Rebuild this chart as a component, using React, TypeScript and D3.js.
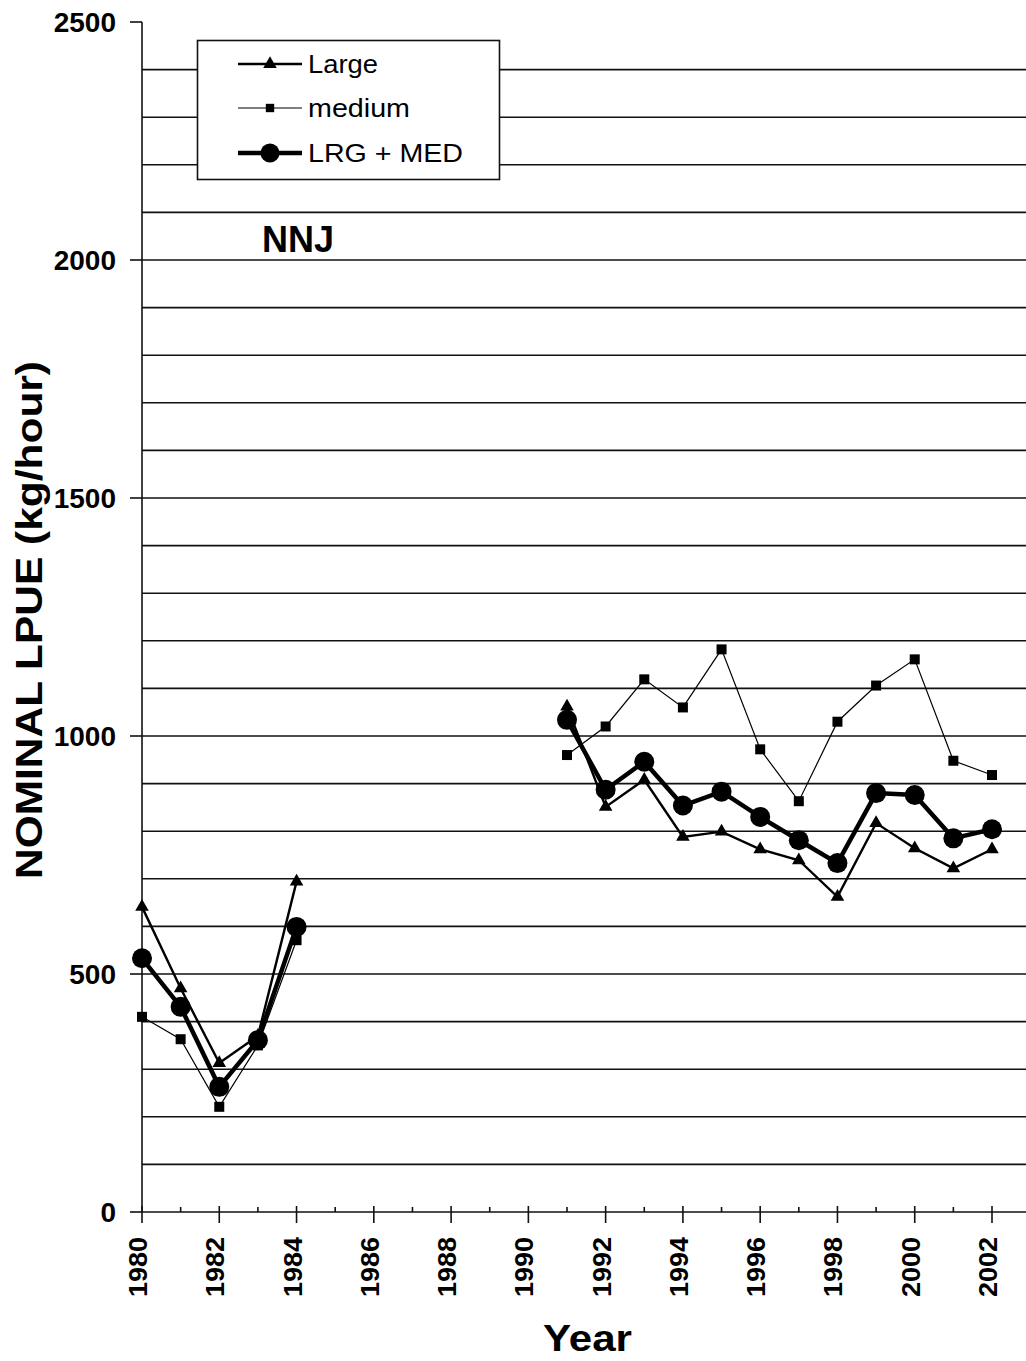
import { useRef, useEffect } from 'react';
import * as d3 from 'd3';

const years = [1980, 1981, 1982, 1983, 1984, 1991, 1992, 1993, 1994, 1995, 1996, 1997, 1998, 1999, 2000, 2001, 2002];
const large = [641, 470, 313, 370, 694, 1062, 851, 908, 788, 799, 762, 739, 662, 817, 764, 722, 762];
const medium = [410, 363, 221, 350, 571, 960, 1020, 1119, 1060, 1182, 972, 863, 1030, 1106, 1161, 948, 918];
const combined = [533, 431, 263, 361, 599, 1034, 887, 946, 854, 883, 830, 781, 733, 880, 876, 785, 804];
const yTicks = [0, 500, 1000, 1500, 2000, 2500];
const xTicks = [1980, 1982, 1984, 1986, 1988, 1990, 1992, 1994, 1996, 1998, 2000, 2002];
const legendLabels = ['Large', 'medium', 'LRG + MED'];

const W = 1026;
const H = 1361;
const FONT = '"Liberation Sans", Arial, sans-serif';

export default function App() {
  const svgRef = useRef(null);

  useEffect(() => {
    const svg = d3.select(svgRef.current);
    svg.selectAll('*').remove();

    const left = 142, top = 22, bottom = 1212, right = 1026;
    const x = d3.scaleLinear().domain([1980, 2002]).range([left, 992]);
    const y = d3.scaleLinear().domain([0, 2500]).range([bottom, top]);

    // gridlines every 100
    svg.append('g')
      .selectAll('line')
      .data(d3.range(100, 2500, 100))
      .join('line')
      .attr('x1', left).attr('x2', right)
      .attr('y1', d => y(d)).attr('y2', d => y(d))
      .attr('stroke', '#111').attr('stroke-width', 1.6);

    // axes
    svg.append('line').attr('x1', left).attr('x2', left).attr('y1', top).attr('y2', bottom)
      .attr('stroke', '#111').attr('stroke-width', 1.6);
    svg.append('line').attr('x1', left).attr('x2', right).attr('y1', bottom).attr('y2', bottom)
      .attr('stroke', '#111').attr('stroke-width', 1.6);

    const yAx = svg.append('g');
    yAx.selectAll('line')
      .data(yTicks)
      .join('line')
      .attr('x1', left - 12).attr('x2', left)
      .attr('y1', d => y(d)).attr('y2', d => y(d))
      .attr('stroke', '#111').attr('stroke-width', 1.6);
    yAx.selectAll('text')
      .data(yTicks)
      .join('text')
      .attr('x', 116).attr('y', d => y(d) + 10)
      .attr('text-anchor', 'end')
      .attr('font-family', FONT).attr('font-weight', 'bold').attr('font-size', 28)
      .text(d => d);

    // x ticks: minor every year (inside), major every 2 years (crossing)
    svg.append('g').selectAll('line')
      .data(d3.range(1980, 2003))
      .join('line')
      .attr('x1', d => x(d)).attr('x2', d => x(d))
      .attr('y1', d => (d % 2 === 0 ? bottom - 6 : bottom - 5))
      .attr('y2', d => (d % 2 === 0 ? bottom + 11 : bottom))
      .attr('stroke', '#111').attr('stroke-width', 1.6);
    svg.append('g').selectAll('text')
      .data(xTicks)
      .join('text')
      .attr('transform', d => `translate(${x(d) + 5},1237) rotate(-90)`)
      .attr('text-anchor', 'end')
      .attr('font-family', FONT).attr('font-weight', 'bold').attr('font-size', 26)
      .attr('textLength', 60).attr('lengthAdjust', 'spacingAndGlyphs')
      .text(d => d);

    // axis titles
    svg.append('text')
      .attr('transform', `translate(42,620) rotate(-90)`)
      .attr('text-anchor', 'middle')
      .attr('font-family', FONT).attr('font-weight', 'bold').attr('font-size', 36)
      .attr('textLength', 518).attr('lengthAdjust', 'spacingAndGlyphs')
      .text('NOMINAL LPUE (kg/hour)');
    svg.append('text')
      .attr('x', 543).attr('y', 1351)
      .attr('font-family', FONT).attr('font-weight', 'bold').attr('font-size', 36)
      .attr('textLength', 89).attr('lengthAdjust', 'spacingAndGlyphs')
      .text('Year');

    svg.append('text')
      .attr('x', 262).attr('y', 252)
      .attr('font-family', FONT).attr('font-weight', 'bold').attr('font-size', 36)
      .text('NNJ');

    // split each series into segments around the data gap
    const segs = (vals) => {
      const out = [];
      let cur = [];
      vals.forEach((v, i) => {
        if (i > 0 && years[i] - years[i - 1] > 1) { out.push(cur); cur = []; }
        cur.push([years[i], v]);
      });
      out.push(cur);
      return out;
    };
    const pl = d3.line().x(d => x(d[0])).y(d => y(d[1]));

    const tri = d3.symbol().type(d3.symbolTriangle).size(80);
    const sq = d3.symbol().type(d3.symbolSquare).size(100);

    // medium
    svg.append('g').selectAll('path')
      .data(segs(medium)).join('path')
      .attr('d', pl).attr('fill', 'none').attr('stroke', '#000').attr('stroke-width', 1.2);
    svg.append('g').selectAll('path')
      .data(medium).join('path')
      .attr('d', sq())
      .attr('transform', (d, i) => `translate(${x(years[i])},${y(d)})`)
      .attr('fill', '#000');

    // large
    svg.append('g').selectAll('path')
      .data(segs(large)).join('path')
      .attr('d', pl).attr('fill', 'none').attr('stroke', '#000').attr('stroke-width', 2.4);
    svg.append('g').selectAll('path')
      .data(large).join('path')
      .attr('d', tri())
      .attr('transform', (d, i) => `translate(${x(years[i])},${y(d)})`)
      .attr('fill', '#000');

    // combined
    svg.append('g').selectAll('path')
      .data(segs(combined)).join('path')
      .attr('d', pl).attr('fill', 'none').attr('stroke', '#000').attr('stroke-width', 4.5);
    svg.append('g').selectAll('circle')
      .data(combined).join('circle')
      .attr('cx', (d, i) => x(years[i])).attr('cy', d => y(d))
      .attr('r', 10).attr('fill', '#000');

    // legend
    const lg = svg.append('g');
    lg.append('rect')
      .attr('x', 197.5).attr('y', 40.5).attr('width', 302).attr('height', 139)
      .attr('fill', '#fff').attr('stroke', '#111').attr('stroke-width', 1.6);
    const ly = [64, 108, 153];
    const lw = [70, 102, 155];
    const widths = [2.4, 1.2, 4.5];
    legendLabels.forEach((lab, i) => {
      lg.append('line').attr('x1', 238).attr('x2', 302).attr('y1', ly[i]).attr('y2', ly[i])
        .attr('stroke', '#000').attr('stroke-width', widths[i]);
      if (i === 0) {
        lg.append('path').attr('d', tri()).attr('transform', `translate(270,${ly[i]})`).attr('fill', '#000');
      } else if (i === 1) {
        lg.append('path').attr('d', sq.size(70)()).attr('transform', `translate(270,${ly[i]})`).attr('fill', '#000');
      } else {
        lg.append('circle').attr('cx', 270).attr('cy', ly[i]).attr('r', 9.5).attr('fill', '#000');
      }
      lg.append('text')
        .attr('x', 308).attr('y', ly[i] + 9)
        .attr('font-family', FONT).attr('font-size', 25)
        .attr('textLength', lw[i]).attr('lengthAdjust', 'spacingAndGlyphs')
        .text(lab);
    });
  }, []);

  return (
    <svg ref={svgRef} width={W} height={H}
      style={{ position: 'absolute', left: 0, top: 0, background: '#fff' }} />
  );
}
